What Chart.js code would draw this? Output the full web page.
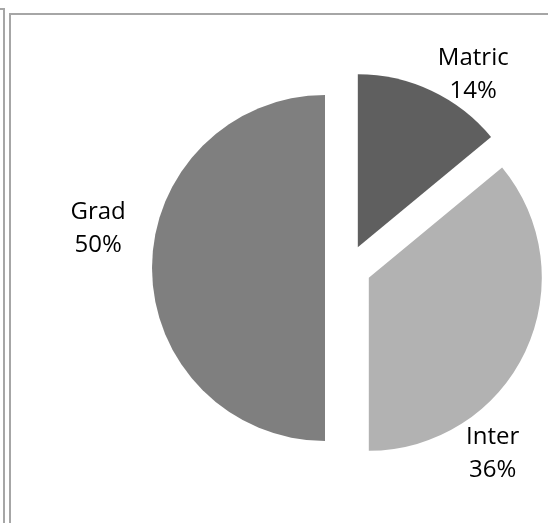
<!DOCTYPE html>
<html>
<head>
<meta charset="utf-8">
<script src="https://cdn.jsdelivr.net/npm/chart.js@4"></script>
<style>
  html, body { margin: 0; padding: 0; background: #fff; }
  #wrap { width: 548px; height: 523px; position: relative; }
</style>
</head>
<body>
<div id="wrap"><canvas id="pieChart"></canvas></div>
<script>
// Education level share
const categories = ['Matric', 'Inter', 'Grad'];
const shares = [14, 36, 50];
const sliceColors = ['#5f5f5f', '#b2b2b2', '#7f7f7f'];

// how far every slice is pulled out from the centre (px)
const explode = 23;

// label placement around each slice: angle from 12 o'clock (deg) and distance from centre (px)
const labelAngles = [33, 142, 279];
const labelDistances = [230, 235, 253];

// frame lines behind the chart
const framePlugin = {
    id: 'frame',
    beforeDraw(chart) {
        const c = chart.ctx;
        const w = chart.width, h = chart.height;
        c.save();
        c.strokeStyle = '#a6a6a6';
        c.lineWidth = 2;
        c.beginPath();
        c.moveTo(0, 9);
        c.lineTo(4, 9);
        c.lineTo(4, h);
        c.stroke();
        c.beginPath();
        c.moveTo(10, h);
        c.lineTo(10, 14);
        c.lineTo(w, 14);
        c.stroke();
        c.restore();
    }
};

// pull slices out along their mid angle (keeps the straight edges exact)
const explodePlugin = {
    id: 'explode',
    afterDatasetUpdate(chart, args) {
        const meta = args.meta;
        meta.data.forEach(arc => {
            if (arc._cx === undefined) { arc._cx = arc.x; arc._cy = arc.y; }
            const mid = (arc.startAngle + arc.endAngle) / 2;
            arc.x = arc._cx + Math.cos(mid) * explode;
            arc.y = arc._cy + Math.sin(mid) * explode;
        });
    }
};

// category name + percentage beside each slice
const labelPlugin = {
    id: 'sliceLabels',
    afterDatasetsDraw(chart) {
        const c = chart.ctx;
        const area = chart.chartArea;
        const cx = (area.left + area.right) / 2;
        const cy = (area.top + area.bottom) / 2;
        const total = shares.reduce((a, b) => a + b, 0);
        c.save();
        c.fillStyle = '#000';
        c.font = '24px "Open Sans", "Liberation Sans", sans-serif';
        c.textAlign = 'center';
        c.textBaseline = 'middle';
        categories.forEach((name, i) => {
            const a = labelAngles[i] * Math.PI / 180;
            const x = cx + Math.sin(a) * labelDistances[i];
            const y = cy - Math.cos(a) * labelDistances[i];
            const pct = Math.round(shares[i] / total * 100) + '%';
            c.fillText(name, x, y - 16.5);
            c.fillText(pct, x, y + 16.5);
        });
        c.restore();
    }
};

new Chart(document.getElementById('pieChart'), {
    type: 'pie',
    data: {
        labels: categories,
        datasets: [{
            data: shares,
            backgroundColor: sliceColors,
            borderWidth: 0
        }]
    },
    options: {
        responsive: true,
        maintainAspectRatio: false,
        animation: false,
        radius: 173,
        layout: { padding: { left: 148, right: 0, top: 13, bottom: 0 } },
        plugins: {
            legend: { display: false },
            tooltip: { enabled: false }
        }
    },
    plugins: [framePlugin, explodePlugin, labelPlugin]
});
</script>
</body>
</html>
